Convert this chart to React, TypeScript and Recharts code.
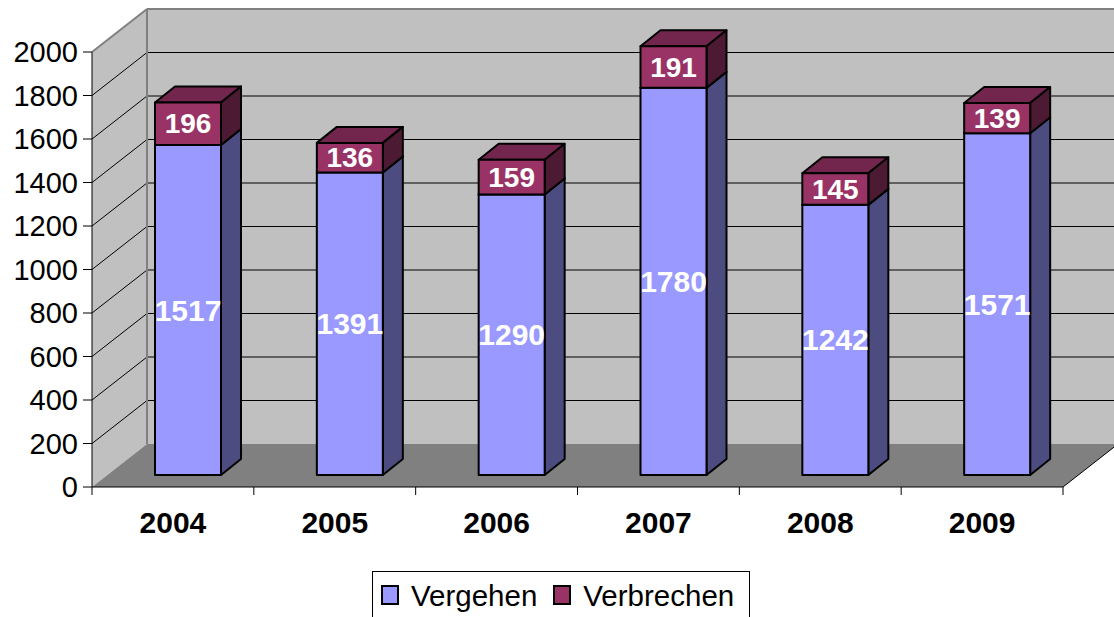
import React from "react";
import { BarChart, Bar, XAxis, YAxis, Legend, ReferenceArea, LabelList } from "recharts";

const years = ["2004", "2005", "2006", "2007", "2008", "2009"];
const vergehen = [1517, 1391, 1290, 1780, 1242, 1571];
const verbrechen = [196, 136, 159, 191, 145, 139];
const yTicks = [0, 200, 400, 600, 800, 1000, 1200, 1400, 1600, 1800, 2000];

const data = years.map((year, i) => ({ year, vergehen: vergehen[i], verbrechen: verbrechen[i] }));

const FONT = '"Liberation Sans", Arial, sans-serif';

// depth of the whole "room" (front plane -> back wall)
const WX = 55;
const WY = -43;
// bars sit a bit behind the front plane, and have their own depth
const OX = 15;
const OY = -12;
const BX = 20;
const BY = -16;

const legendItems = [
    { name: "Vergehen", color: "#9999FF" },
    { name: "Verbrechen", color: "#993366" },
];

// walls, floor and grid, drawn from the reference area rect (= 0..2000 front plane)
function Walls(props: any) {
    const { x, y, width, height } = props;
    if (x == null || width == null) return null;
    const bottom = y + height;
    const right = x + width;
    const yMax = yTicks[yTicks.length - 1];
    const inner = yTicks.filter((v) => v > 0 && v < yMax);
    const n = years.length;

    return (
        <g>
            <rect x={x + WX} y={y + WY} width={width + 10} height={height} fill="#C0C0C0" />
            <polygon
                points={`${x},${y} ${x + WX},${y + WY} ${x + WX},${bottom + WY} ${x},${bottom}`}
                fill="#C0C0C0"
            />
            <polygon
                points={`${x},${bottom} ${right},${bottom} ${right + WX},${bottom + WY} ${x + WX},${bottom + WY}`}
                fill="#808080"
            />
            {inner.map((v) => {
                const ly = y + height * (1 - v / yMax);
                return (
                    <g key={v} stroke="#000" strokeWidth={1}>
                        <line x1={x} y1={ly} x2={x + WX} y2={ly + WY} />
                        <line x1={x + WX} y1={ly + WY} x2={right + WX + 10} y2={ly + WY} />
                    </g>
                );
            })}
            <g stroke="#808080" strokeWidth={2} fill="none">
                <line x1={x + WX} y1={y + WY} x2={right + WX + 10} y2={y + WY} />
                <line x1={x} y1={y} x2={x + WX} y2={y + WY} />
                <line x1={x + WX} y1={y + WY} x2={x + WX} y2={bottom + WY} />
            </g>
            <line x1={right} y1={bottom} x2={right + WX} y2={bottom + WY} stroke="#000" strokeWidth={1} />
            {Array.from({ length: n + 1 }, (_, i) => {
                const tx = x + (width * i) / n;
                return <line key={i} x1={tx} y1={bottom} x2={tx} y2={bottom + 8} stroke="#000" strokeWidth={1} />;
            })}
        </g>
    );
}

function makeBox(front: string, top: string, side: string) {
    return (props: any) => {
        const { x, y, width, height } = props;
        if (x == null || !height) return <g />;
        const fx = x + OX;
        const fy = y + OY;
        return (
            <g stroke="#000" strokeWidth={2} strokeLinejoin="round">
                <polygon
                    points={`${fx},${fy} ${fx + BX},${fy + BY} ${fx + width + BX},${fy + BY} ${fx + width},${fy}`}
                    fill={top}
                />
                <polygon
                    points={`${fx + width},${fy} ${fx + width + BX},${fy + BY} ${fx + width + BX},${fy + height + BY} ${fx + width},${fy + height}`}
                    fill={side}
                />
                <rect x={fx} y={fy} width={width} height={height} fill={front} />
            </g>
        );
    };
}

const valueLabel = (size: number) => (props: any) => {
    const vb = props.viewBox ?? props;
    const { x, y, width, height } = vb;
    return (
        <text
            x={x + OX + width / 2}
            y={y + OY + height / 2}
            textAnchor="middle"
            dominantBaseline="central"
            fill="#fff"
            fontWeight="bold"
            fontSize={size}
            fontFamily={FONT}
        >
            {props.value}
        </text>
    );
};

const XTick = (p: any) => (
    <text x={p.x} y={p.y} dy={46} textAnchor="middle" fontWeight="bold" fontSize={30} fontFamily={FONT} fill="#000">
        {p.payload.value}
    </text>
);

const renderLegend = () => (
    <div
        style={{
            border: "1px solid #000",
            boxSizing: "border-box",
            height: 52,
            display: "flex",
            alignItems: "flex-start",
            paddingTop: 8,
            paddingLeft: 8,
            fontFamily: FONT,
            fontSize: 29.5,
            lineHeight: "32px",
            background: "#fff",
            color: "#000",
        }}
    >
        {legendItems.map((it, i) => (
            <div key={it.name} style={{ display: "flex", alignItems: "flex-start", marginRight: i === 0 ? 16 : 0 }}>
                <div
                    style={{
                        width: 18,
                        height: 20,
                        marginTop: 5,
                        marginRight: 12,
                        boxSizing: "border-box",
                        border: "2px solid #000",
                        background: it.color,
                    }}
                />
                <span>{it.name}</span>
            </div>
        ))}
    </div>
);

export default function App() {
    return (
        <div style={{ position: "absolute", left: 0, top: 0, background: "#fff" }}>
            <BarChart
                width={1114}
                height={617}
                data={data}
                margin={{ top: 52, right: 51, left: 0, bottom: 100 }}
                barSize={66}
            >
                <ReferenceArea y1={0} y2={2000} ifOverflow="visible" shape={(p: any) => <Walls {...p} />} />
                <XAxis
                    dataKey="year"
                    axisLine={{ stroke: "#000", strokeWidth: 1 }}
                    tickLine={false}
                    tickSize={0}
                    tickMargin={0}
                    height={30}
                    tick={<XTick />}
                />
                <YAxis
                    domain={[0, 2000]}
                    ticks={yTicks}
                    interval={0}
                    width={92}
                    axisLine={{ stroke: "#000", strokeWidth: 1 }}
                    tickLine={{ stroke: "#000" }}
                    tickSize={9}
                    tickMargin={5}
                    tick={{ fill: "#000", fontSize: 29, fontFamily: FONT }}
                />
                <Bar
                    dataKey="vergehen"
                    name="Vergehen"
                    stackId="a"
                    fill="#9999FF"
                    isAnimationActive={false}
                    shape={makeBox("#9999FF", "#7A7ACC", "#4C4C80")}
                >
                    <LabelList dataKey="vergehen" content={valueLabel(30)} />
                </Bar>
                <Bar
                    dataKey="verbrechen"
                    name="Verbrechen"
                    stackId="a"
                    fill="#993366"
                    isAnimationActive={false}
                    shape={makeBox("#993366", "#73264D", "#4D1A33")}
                >
                    <LabelList dataKey="verbrechen" content={valueLabel(28)} />
                </Bar>
                <Legend
                    verticalAlign="middle"
                    align="center"
                    content={renderLegend}
                    wrapperStyle={{ left: 372, top: 571, width: 378, height: 52 }}
                />
            </BarChart>
        </div>
    );
}
